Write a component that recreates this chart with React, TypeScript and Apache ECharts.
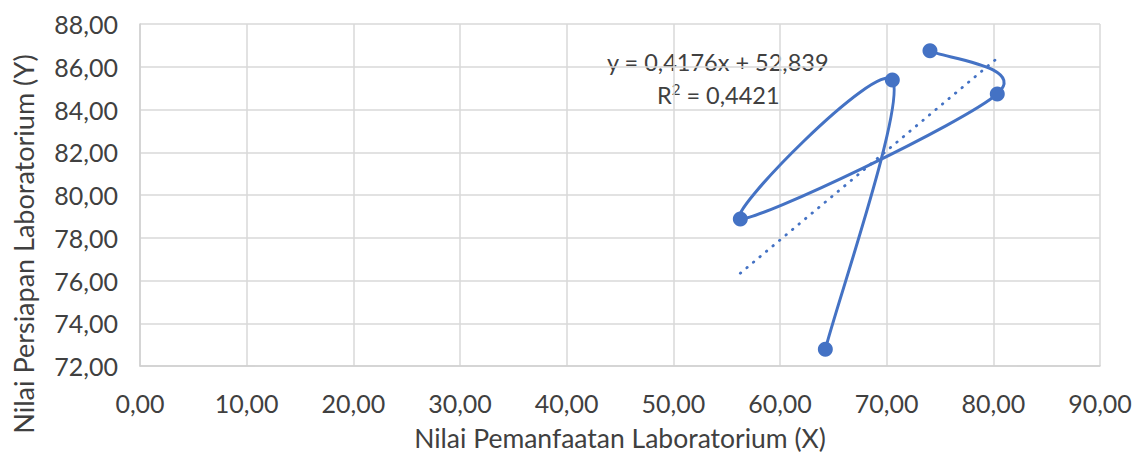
import React, { useEffect, useRef } from "react";
import * as echarts from "echarts";

const xValues = [64.25, 70.53, 56.28, 80.37, 74.06];
const yValues = [72.78, 85.38, 78.88, 84.73, 86.75];
const slope = 0.4176;
const intercept = 52.839;
const rSquared = "0,4421";
const equationText = "y = 0,4176x + 52,839";
const xTitle = "Nilai Pemanfaatan Laboratorium (X)";
const yTitle = "Nilai Persiapan Laboratorium (Y)";

const fmt = (v: number) => v.toFixed(2).replace(".", ",");

export default function App() {
  const ref = useRef<HTMLDivElement>(null);
  useEffect(() => {
    if (!ref.current) return;
    const chart = echarts.init(ref.current, undefined, { renderer: "svg" });
    const points = xValues.map((x, i) => [x, yValues[i]]);
    const xMin = Math.min(...xValues);
    const xMax = Math.max(...xValues);
    const trend = [
      [xMin, slope * xMin + intercept],
      [xMax, slope * xMax + intercept],
    ];
    const font = "Lato, 'Noto Sans', sans-serif";
    const textColor = "#404040";
    const blue = "#4472C4";

    const renderCurve = (params: any, api: any) => {
      if (params.dataIndex !== 0) return null;
      const p = points.map((pt) => api.coord(pt));
      const n = p.length;
      const children: any[] = [];
      for (let i = 0; i < n - 1; i++) {
        const p0 = p[i - 1] || p[i];
        const p1 = p[i];
        const p2 = p[i + 1];
        const p3 = p[i + 2] || p[i + 1];
        const t = 1 / 6;
        children.push({
          type: "bezierCurve",
          shape: {
            x1: p1[0],
            y1: p1[1],
            x2: p2[0],
            y2: p2[1],
            cpx1: p1[0] + (p2[0] - p0[0]) * t,
            cpy1: p1[1] + (p2[1] - p0[1]) * t,
            cpx2: p2[0] - (p3[0] - p1[0]) * t,
            cpy2: p2[1] - (p3[1] - p1[1]) * t,
          },
          style: { stroke: blue, lineWidth: 3, fill: "none", lineCap: "round" },
        });
      }
      return { type: "group", children };
    };

    chart.setOption({
      animation: false,
      backgroundColor: "#ffffff",
      grid: {
        left: 140,
        top: 24,
        right: 39,
        bottom: 90,
        containLabel: false,
        outerBoundsMode: "none",
      },
      xAxis: {
        type: "value",
        min: 0,
        max: 90,
        interval: 10,
        name: xTitle,
        nameLocation: "middle",
        nameGap: 59,
        nameTextStyle: { fontFamily: font, fontSize: 26.5, lineHeight: 26, color: textColor },
        axisLine: { show: true, lineStyle: { color: "#D0D0D0", width: 1.5 } },
        axisTick: { show: false },
        splitLine: { show: true, lineStyle: { color: "#D9D9D9", width: 1.5 } },
        axisLabel: {
          formatter: (v: number) => fmt(v),
          fontFamily: font,
          fontSize: 25,
          color: textColor,
          margin: 24,
        },
      },
      yAxis: {
        type: "value",
        min: 72,
        max: 88,
        interval: 2,
        axisLine: { show: true, lineStyle: { color: "#D0D0D0", width: 1.5 } },
        axisTick: { show: false },
        splitLine: { show: true, lineStyle: { color: "#D9D9D9", width: 1.5 } },
        axisLabel: {
          formatter: (v: number) => fmt(v),
          fontFamily: font,
          fontSize: 25,
          color: textColor,
          margin: 22,
        },
      },
      series: [
        {
          type: "line",
          data: trend,
          showSymbol: false,
          symbol: "none",
          lineStyle: { color: blue, width: 2.8, type: [0.5, 8], cap: "round" },
          z: 2,
        },
        {
          type: "custom",
          data: points,
          encode: { x: 0, y: 1 },
          renderItem: renderCurve,
          z: 3,
        },
        {
          type: "scatter",
          data: points,
          symbol: "circle",
          symbolSize: 15,
          itemStyle: { color: blue, opacity: 1 },
          z: 4,
        },
      ],
      graphic: [
        {
          type: "text",
          x: 23,
          y: 244,
          rotation: Math.PI / 2,
          style: {
            text: yTitle,
            fontFamily: font,
            fontSize: 27,
            fill: textColor,
            align: "center",
            verticalAlign: "middle",
          },
        },
        {
          type: "text",
          left: 607,
          top: 50,
          style: {
            text: equationText,
            fontFamily: font,
            fontSize: 23.5,
            fill: textColor,
          },
        },
        {
          type: "text",
          left: 657,
          top: 81,
          style: {
            text: "{n|R}{s|2}{n| = " + rSquared + "}",
            rich: {
              n: { fontFamily: font, fontSize: 23.5, fill: textColor, lineHeight: 28 },
              s: { fontFamily: font, fontSize: 15, fill: textColor, lineHeight: 14, verticalAlign: "top" },
            },
          },
        },
      ],
    });
    return () => chart.dispose();
  }, []);
  return (
    <div
      ref={ref}
      style={{ position: "absolute", left: 0, top: 0, width: 1139, height: 456 }}
    />
  );
}
